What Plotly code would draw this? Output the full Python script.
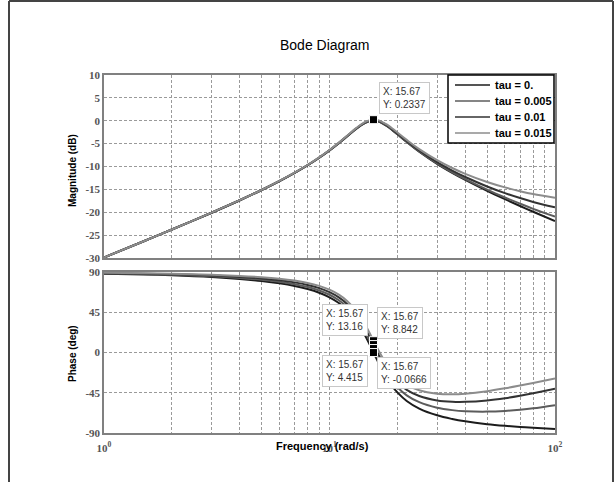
import math
import plotly.graph_objects as go

# ---------------- data ----------------
freq = [1, 1.5, 2, 3, 4, 5, 6, 7, 8, 9, 10, 11, 12, 13, 13.5, 14, 14.5, 15, 15.67,
        16, 16.5, 17, 18, 19, 20, 22, 25, 30, 35, 40, 50, 60, 70, 80, 100]

series_names = ["tau = 0.", "tau = 0.005", "tau = 0.01", "tau = 0.015"]

mag_tau0 = [-29.89, -26.33, -23.78, -20.10, -17.38, -15.14, -13.19, -11.41, -9.73, -8.09,
            -6.48, -4.90, -3.36, -1.94, -1.33, -0.81, -0.40, -0.13, 0.00, -0.03,
            -0.18, -0.44, -1.17, -2.05, -2.95, -4.64, -6.77, -9.42, -11.39, -12.94,
            -15.33, -17.15, -18.63, -19.89, -21.93]
mag_tau005 = [-29.89, -26.33, -23.78, -20.10, -17.38, -15.14, -13.19, -11.41, -9.72, -8.08,
              -6.47, -4.89, -3.34, -1.92, -1.31, -0.79, -0.38, -0.11, 0.03, 0.00,
              -0.15, -0.41, -1.14, -2.01, -2.91, -4.59, -6.70, -9.32, -11.26, -12.77,
              -15.07, -16.78, -18.13, -19.25, -20.96]
mag_tau01 = [-29.89, -26.33, -23.78, -20.10, -17.37, -15.13, -13.17, -11.39, -9.70, -8.06,
             -6.44, -4.85, -3.30, -1.87, -1.25, -0.73, -0.31, -0.03, 0.11, 0.08,
             -0.06, -0.32, -1.03, -1.90, -2.78, -4.44, -6.51, -9.05, -10.89, -12.30,
             -14.36, -15.82, -16.90, -17.74, -18.92]
mag_tau015 = [-29.89, -26.33, -23.78, -20.09, -17.36, -15.12, -13.16, -11.36, -9.67, -8.01,
              -6.38, -4.78, -3.22, -1.78, -1.16, -0.62, -0.20, 0.08, 0.23, 0.21,
              0.08, -0.17, -0.86, -1.71, -2.58, -4.19, -6.20, -8.62, -10.33, -11.61,
              -13.39, -14.57, -15.39, -16.01, -16.81]

ph_tau0 = [88.17, 87.24, 86.29, 84.33, 82.23, 79.93, 77.36, 74.41, 70.95, 66.80,
           61.71, 55.32, 47.20, 36.93, 30.90, 24.31, 17.26, 9.92, -0.07, -4.77,
           -11.67, -18.07, -29.09, -37.80, -44.59, -54.14, -62.70, -70.24, -74.36, -76.97,
           -80.14, -82.02, -83.28, -84.18, -85.41]
ph_tau005 = [88.46, 87.67, 86.86, 85.19, 83.38, 81.36, 79.08, 76.41, 73.24, 69.38,
             64.57, 58.47, 50.63, 40.65, 34.76, 28.31, 21.41, 14.21, 4.41, -0.20,
             -6.95, -13.21, -23.95, -32.37, -38.88, -47.86, -55.57, -61.71, -64.43, -65.66,
             -66.10, -65.32, -63.99, -62.38, -58.84]
ph_tau01 = [88.74, 88.10, 87.44, 86.05, 84.52, 82.79, 80.79, 78.41, 75.52, 71.94,
            67.42, 61.60, 54.04, 44.34, 38.59, 32.28, 25.51, 18.45, 8.84, 4.32,
            -2.30, -8.42, -18.89, -27.04, -33.28, -41.73, -48.66, -53.54, -55.07, -55.17,
            -53.57, -51.06, -48.29, -45.52, -40.41]
ph_tau015 = [89.03, 88.53, 88.01, 86.91, 85.66, 84.22, 82.50, 80.40, 77.79, 74.49,
             70.24, 64.69, 57.40, 47.96, 42.35, 36.17, 29.53, 22.60, 13.16, 8.73,
             2.23, -3.76, -13.98, -21.89, -27.89, -35.88, -42.14, -46.01, -46.66, -46.01,
             -43.27, -40.03, -36.88, -33.99, -29.10]

mag_series = [mag_tau0, mag_tau005, mag_tau01, mag_tau015]
ph_series = [ph_tau0, ph_tau005, ph_tau01, ph_tau015]
for s in mag_series + ph_series:
    assert len(s) == len(freq)

# data tips
tip_x = 15.67
mag_tip_y = 0.2337
phase_tip_y = [13.16, 8.842, 4.415, -0.0666]
phase_tip_text = ["13.16", "8.842", "4.415", "-0.0666"]

x_major = [1, 10, 100]
x_major_labels = ["10<sup>0</sup>", "10<sup>1</sup>", "10<sup>2</sup>"]
x_minor = [2, 3, 4, 5, 6, 7, 8, 9, 20, 30, 40, 50, 60, 70, 80, 90]
mag_ticks = [-30, -25, -20, -15, -10, -5, 0, 5, 10]
mag_tick_labels = ["-30", "-25", "-20", "-15", "-10", "-5", "0", "5", "10"]
phase_ticks = [-90, -45, 0, 45, 90]
phase_tick_labels = ["-90", "-45", "0", "45", "90"]

# ---------------- styles / layout helpers ----------------
colors = ["#1c1c1c", "#5c5c5c", "#333333", "#8c8c8c"]
FONT = "Liberation Sans, Arial, sans-serif"
TICKFONT_FAMILY = "Liberation Serif, Times New Roman, serif"
L, R, T, B = 104, 555, 75, 433      # plot-area pixel box


def px(xp):
    return (xp - L) / (R - L)


def py(yp):
    return (B - yp) / (B - T)


fig = go.Figure()
for name, mag, ph, col in zip(series_names, mag_series, ph_series, colors):
    fig.add_trace(go.Scatter(x=freq, y=mag, mode="lines", name=name, showlegend=False,
                             line=dict(color=col, width=2, shape="spline"),
                             xaxis="x", yaxis="y"))
    fig.add_trace(go.Scatter(x=freq, y=ph, mode="lines", name=name, showlegend=False,
                             line=dict(color=col, width=2, shape="spline"),
                             xaxis="x2", yaxis="y2"))

# data-tip markers
mk = dict(symbol="square", size=8, color="black", line=dict(color="white", width=1))
fig.add_trace(go.Scatter(x=[tip_x], y=[mag_tip_y], mode="markers", showlegend=False,
                         marker=mk, xaxis="x", yaxis="y"))
fig.add_trace(go.Scatter(x=[tip_x] * len(phase_tip_y), y=phase_tip_y, mode="markers",
                         showlegend=False, marker=mk, xaxis="x2", yaxis="y2"))

GRIDC = "#9a9a9a"
DASH = "3px,2px"
grid = dict(showgrid=True, gridcolor=GRIDC, gridwidth=1, griddash=DASH,
            showline=True, linecolor="#808080", linewidth=1.5, mirror=True,
            zeroline=False, ticks="")
minor = dict(tickvals=x_minor, showgrid=True, gridcolor=GRIDC, gridwidth=1, griddash=DASH,
             ticks="")
tickfont = dict(family=TICKFONT_FAMILY, size=11, color="#555555", weight="bold")

fig.update_layout(
    width=616, height=482,
    paper_bgcolor="white", plot_bgcolor="white",
    margin=dict(l=L, r=616 - R, t=T, b=482 - B),
    showlegend=False,
    xaxis=dict(type="log", range=[0, 2], domain=[0, 1], anchor="y",
               tickvals=x_major, showticklabels=False, minor=minor, **grid),
    yaxis=dict(range=[-30, 10], domain=[py(258), 1], anchor="x",
               tickvals=mag_ticks, ticktext=mag_tick_labels, tickfont=tickfont, **grid),
    xaxis2=dict(type="log", range=[0, 2], domain=[0, 1], anchor="y2", matches="x",
                tickvals=x_major, ticktext=x_major_labels, minor=minor,
                tickfont=tickfont, ticklabelstandoff=4, **grid),
    yaxis2=dict(range=[-90, 90], domain=[0, py(272)], anchor="x2",
                tickvals=phase_ticks, ticktext=phase_tick_labels, tickfont=tickfont, **grid),
)

ann = []
ann.append(dict(text="Bode Diagram", x=px(325), y=py(45), xref="paper", yref="paper",
                showarrow=False, xanchor="center", yanchor="middle",
                font=dict(family=FONT, size=14, color="black")))
ann.append(dict(text="Magnitude (dB)", x=px(72), y=py(171), xref="paper",
                yref="paper", showarrow=False, textangle=-90, xanchor="center", yanchor="middle",
                font=dict(family=FONT, size=10, color="black", weight="bold")))
ann.append(dict(text="Phase (deg)", x=px(72), y=py(354), xref="paper",
                yref="paper", showarrow=False, textangle=-90, xanchor="center", yanchor="middle",
                font=dict(family=FONT, size=10, color="black", weight="bold")))
ann.append(dict(text="Frequency (rad/s)", x=px(322), y=py(446), xref="paper",
                yref="paper", showarrow=False, xanchor="center", yanchor="middle",
                font=dict(family=FONT, size=11, color="black", weight="bold")))

# data tips (annotation x on a log axis is given in log10 units)
tip_lx = math.log10(tip_x)
tipfont = dict(family=FONT, size=10, color="#333333")
tipbox = dict(bgcolor="white", bordercolor="#c8c8c8", borderwidth=1, borderpad=3,
              showarrow=False, align="left", font=tipfont)
ann.append(dict(text=f"X: {tip_x}<br>Y: {mag_tip_y}", x=tip_lx, y=mag_tip_y, xref="x", yref="y",
                xanchor="left", yanchor="bottom", xshift=6, yshift=6, **tipbox))
placements = [("right", "bottom", -5, 5), ("left", "bottom", 4, 6),
              ("right", "top", -5, -6), ("left", "top", 4, -4)]
for yv, txt, (xa, ya, xs, ys) in zip(phase_tip_y, phase_tip_text, placements):
    ann.append(dict(text=f"X: {tip_x}<br>Y: {txt}", x=tip_lx, y=yv, xref="x2", yref="y2",
                    xanchor=xa, yanchor=ya, xshift=xs, yshift=ys, **tipbox))

# legend box (drawn like the MATLAB legend)
shapes = []
shapes.append(dict(type="rect", xref="paper", yref="paper", x0=px(448), x1=px(554),
                   y0=py(143), y1=py(75), fillcolor="white",
                   line=dict(color="black", width=1.5), layer="above"))
row_y = [85, 101, 117, 133]
for name, col, ry in zip(series_names, colors, row_y):
    shapes.append(dict(type="line", xref="paper", yref="paper", x0=px(455), x1=px(490),
                       y0=py(ry), y1=py(ry), line=dict(color=col, width=1.5), layer="above"))
    ann.append(dict(text=name, x=px(493), y=py(ry), xref="paper", yref="paper",
                    showarrow=False, xanchor="left", yanchor="middle",
                    font=dict(family=FONT, size=11, color="black", weight="bold")))

# outer frame of the figure window
frame = dict(type="line", xref="paper", yref="paper", line=dict(color="#444444", width=2))
xl, xr = px(9), px(613)
yt, yb = py(1), py(500)
shapes.append(dict(x0=xl, x1=xl, y0=yb, y1=yt, **frame))
shapes.append(dict(x0=xr, x1=xr, y0=yb, y1=yt, **frame))
shapes.append(dict(x0=xl, x1=xr, y0=yt, y1=yt, **frame))

fig.update_layout(annotations=ann, shapes=shapes)
fig.write_html("out.html")
